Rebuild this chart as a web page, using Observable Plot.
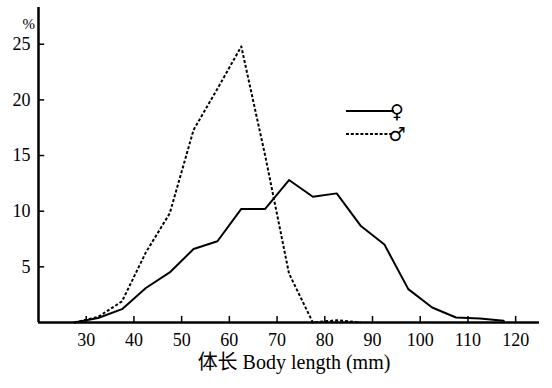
<!DOCTYPE html>
<html><head><meta charset="utf-8">
<script src="https://cdn.jsdelivr.net/npm/d3@7"></script>
<script src="https://cdn.jsdelivr.net/npm/@observablehq/plot@0.6"></script>
<style>
body{margin:0;background:#fff;}
#chart svg{font-family:"Liberation Serif","Noto Sans CJK SC",serif;}
</style></head>
<body><div id="chart"></div>
<script>
const bodyLength = [27.5, 32.5, 37.5, 42.5, 47.5, 52.5, 57.5, 62.5, 67.5, 72.5, 77.5, 82.5, 87.5, 92.5, 97.5, 102.5, 107.5, 112.5, 117.5];
const female = [0, 0.4, 1.2, 3.1, 4.5, 6.6, 7.3, 10.2, 10.2, 12.8, 11.3, 11.6, 8.7, 7.0, 3.0, 1.35, 0.45, 0.35, 0.15];
const male = [0, 0.5, 1.9, 6.3, 9.8, 17.3, 21.0, 24.8, 15.0, 4.4, 0, 0.2, 0];
const xTicks = [30, 40, 50, 60, 70, 80, 90, 100, 110, 120];
const yTicks = [5, 10, 15, 20, 25];
const seriesLabels = ["♀", "♂"];

const femaleData = female.map((v, i) => ({x: bodyLength[i], y: v}));
const maleData = male.map((v, i) => ({x: bodyLength[i], y: v}));

const plot = Plot.plot({
  width: 552, height: 388,
  marginLeft: 38, marginRight: 13, marginTop: 7, marginBottom: 66,
  style: {fontFamily: '"Liberation Serif","Noto Sans CJK SC",serif', fontSize: "18px", background: "#fff", color: "#000"},
  x: {domain: [20, 125]},
  y: {domain: [0, 28.3]},
  marks: [
    Plot.axisX({ticks: xTicks, tickSize: 0, tickPadding: 11, label: null, fontSize: 18}),
    Plot.axisY({ticks: yTicks, tickSize: 0, tickPadding: 8, label: null, fontSize: 18}),
    Plot.ruleX(xTicks, {y1: 0, y2: 0.55, stroke: "#000", strokeWidth: 1.5}),
    Plot.ruleY(yTicks, {x1: 20, x2: 21.3, stroke: "#000", strokeWidth: 1.5}),
    Plot.line(femaleData, {x: "x", y: "y", stroke: "#000", strokeWidth: 2}),
    Plot.line(maleData, {x: "x", y: "y", stroke: "#000", strokeWidth: 2, strokeDasharray: "3,2", strokeLinecap: "butt"}),
    Plot.ruleX([20], {stroke: "#000", strokeWidth: 2.5}),
    Plot.ruleY([0], {stroke: "#000", strokeWidth: 2.5}),
    Plot.text(["%"], {frameAnchor: "top-left", dx: -16, dy: 11, fontSize: 15}),
    Plot.text(["体长 Body length (mm)"], {frameAnchor: "bottom", dx: 5, dy: 46, fontSize: 20})
  ]
});
document.getElementById("chart").appendChild(plot);

// legend
const svg = d3.select(plot);
const lg = svg.append("g").attr("font-family", '"DejaVu Sans",sans-serif');
const rows = [{y: 111, dash: null}, {y: 134, dash: "3,1.8"}];
rows.forEach((r, i) => {
  lg.append("line").attr("x1", 346).attr("x2", 394).attr("y1", r.y).attr("y2", r.y)
    .attr("stroke", "#000").attr("stroke-width", 2).attr("stroke-dasharray", r.dash);
  lg.append("text").attr("x", 397).attr("y", r.y).attr("dy", "0.35em")
    .attr("font-size", 19).attr("fill", "#000").text(seriesLabels[i]);
});
</script></body></html>
